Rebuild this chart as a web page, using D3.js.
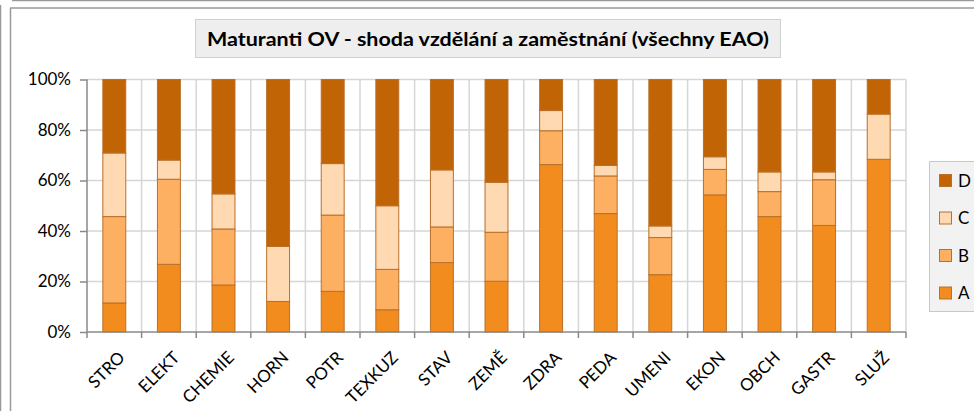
<!DOCTYPE html>
<html><head><meta charset="utf-8">
<script src="https://cdn.jsdelivr.net/npm/d3@7"></script>
<style>body{margin:0;background:#fff}svg{display:block}</style>
</head><body>
<svg id="c" width="974" height="411"></svg>
<script>
const categories = ["STRO","ELEKT","CHEMIE","HORN","POTR","TEXKUZ","STAV","ZEMĚ","ZDRA","PEDA","UMENI","EKON","OBCH","GASTR","SLUŽ"];
const seriesNames = ["A","B","C","D"];
const valuesA = [11.5, 26.8, 18.6, 12.1, 16.1, 8.8, 27.5, 20.1, 66.3, 46.9, 22.7, 54.3, 45.7, 42.2, 68.4];
const valuesB = [34.2, 33.7, 22.2, 0.0, 30.2, 16.0, 14.1, 19.4, 13.4, 14.9, 14.7, 10.1, 9.9, 18.1, 0.0];
const valuesC = [25.2, 7.6, 13.9, 21.8, 20.4, 25.2, 22.6, 19.8, 8.0, 4.2, 4.6, 5.0, 7.8, 3.1, 17.9];
const valuesD = [29.1, 31.9, 45.3, 66.1, 33.3, 50.0, 35.8, 40.7, 12.3, 34.0, 58.0, 30.6, 36.6, 36.6, 13.7];
const yTicks = [0, 20, 40, 60, 80, 100];
const title = "Maturanti OV - shoda vzdělání a zaměstnání (všechny EAO)";

const colors = {A:"#F28C1E", B:"#FDB062", C:"#FFD9B2", D:"#C06405"};
const stroke = "#B8702A";
const font = "Lato, 'Open Sans', sans-serif";

const svg = d3.select("#c");
// frames
svg.append("line").attr("x1",0.5).attr("x2",0.5).attr("y1",5).attr("y2",411).attr("stroke","#9a9a9a").attr("stroke-width",1.5);
svg.append("line").attr("x1",12).attr("x2",974).attr("y1",0.5).attr("y2",0.5).attr("stroke","#9a9a9a").attr("stroke-width",1.5);
svg.append("line").attr("x1",10.5).attr("x2",10.5).attr("y1",8).attr("y2",411).attr("stroke","#9a9a9a").attr("stroke-width",1.5);
svg.append("line").attr("x1",10).attr("x2",974).attr("y1",8).attr("y2",8).attr("stroke","#9a9a9a").attr("stroke-width",1.5);

const rows = categories.map((c,i)=>({cat:c, A:valuesA[i], B:valuesB[i], C:valuesC[i], D:valuesD[i]}));
const stack = d3.stack().keys(seriesNames)(rows);

const x = d3.scaleBand().domain(categories).range([87, 906]).paddingInner(0.58).paddingOuter(0.29);
const xb = d3.scaleBand().domain(categories).range([87, 906]);
const y = d3.scaleLinear().domain([0,100]).range([332, 79.5]);

// gridlines
const g = svg.append("g");
g.selectAll(".hg").data(yTicks.filter(t=>t>0)).join("line")
  .attr("x1",87).attr("x2",906).attr("y1",d=>y(d)).attr("y2",d=>y(d))
  .attr("stroke","#d6d6d6").attr("stroke-width",1.5);
g.selectAll(".vg").data(categories).join("line")
  .attr("x1",d=>xb(d)+xb.bandwidth()).attr("x2",d=>xb(d)+xb.bandwidth())
  .attr("y1",y(100)).attr("y2",y(0))
  .attr("stroke","#d6d6d6").attr("stroke-width",1.5);

// bars
svg.append("g").selectAll("g").data(stack).join("g")
  .attr("fill",d=>colors[d.key])
  .selectAll("rect").data(d=>d.filter(p=>p[1]-p[0]>0)).join("rect")
  .attr("x",d=>x(d.data.cat)).attr("width",x.bandwidth())
  .attr("y",d=>y(d[1])).attr("height",d=>y(d[0])-y(d[1]))
  .attr("stroke",stroke).attr("stroke-width",1);

// axes
const yAxis = svg.append("g").attr("transform","translate(87,0)")
  .call(d3.axisLeft(y).tickValues(yTicks).tickFormat(d=>d+"%").tickSize(7).tickPadding(9));
yAxis.select(".domain").remove();
yAxis.append("line").attr("x1",0).attr("x2",0).attr("y1",y(100)).attr("y2",338).attr("stroke","#888").attr("stroke-width",1.5);
yAxis.selectAll(".tick line").attr("stroke","#888").attr("stroke-width",1.5);
yAxis.selectAll(".tick text").attr("font-family",font).attr("font-size",17).attr("fill","#000");

const xAxis = svg.append("g").attr("transform","translate(0,332)");
xAxis.append("line").attr("x1",87).attr("x2",906).attr("y1",0).attr("y2",0).attr("stroke","#888").attr("stroke-width",1.5);
xAxis.selectAll(".xt").data(categories).join("line")
  .attr("x1",d=>xb(d)+xb.bandwidth()).attr("x2",d=>xb(d)+xb.bandwidth()).attr("y1",0).attr("y2",6)
  .attr("stroke","#888").attr("stroke-width",1.5);
xAxis.selectAll("text").data(categories).join("text")
  .attr("transform",d=>`translate(${xb(d)+xb.bandwidth()/2+3},18) rotate(-45)`)
  .attr("text-anchor","end").attr("dy","0.72em")
  .attr("font-family",font).attr("font-size",17).attr("fill","#000").text(d=>d);

// title
svg.append("rect").attr("x",195.5).attr("y",19.5).attr("width",585).attr("height",38)
  .attr("fill","#eeeeee").attr("stroke","#cfcfcf");
svg.append("text").attr("x",488).attr("y",45.5).attr("text-anchor","middle")
  .attr("font-family",font).attr("font-weight","bold").attr("font-size",18.5)
  .attr("textLength",562).attr("lengthAdjust","spacingAndGlyphs").text(title);

// legend
const lg = svg.append("g");
lg.append("rect").attr("x",929.5).attr("y",161.5).attr("width",60).attr("height",150)
  .attr("fill","#f2f2f2").attr("stroke","#c8c8c8");
const legendOrder = ["D","C","B","A"];
lg.selectAll("rect.sw").data(legendOrder).join("rect").attr("class","sw")
  .attr("x",939.5).attr("y",(d,i)=>174.5+i*37.5).attr("width",12).attr("height",12)
  .attr("fill",d=>colors[d]).attr("stroke",stroke);
lg.selectAll("text").data(legendOrder).join("text")
  .attr("x",958).attr("y",(d,i)=>180.5+i*37.5).attr("dy","0.36em")
  .attr("font-family",font).attr("font-size",17).text(d=>d);
</script>
</body></html>
